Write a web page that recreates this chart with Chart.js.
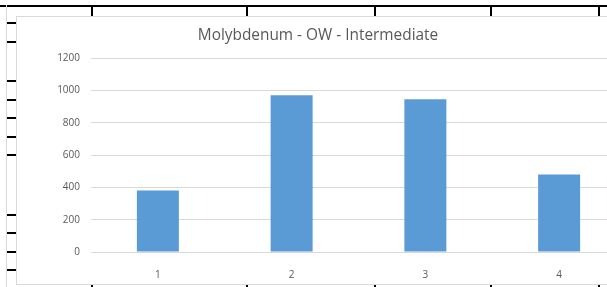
<!DOCTYPE html>
<html>
<head>
<meta charset="utf-8">
<script src="https://cdn.jsdelivr.net/npm/chart.js@4.4.1/dist/chart.umd.min.js"></script>
<style>
  html, body { margin: 0; padding: 0; background: #fff; }
  body { width: 607px; height: 287px; overflow: hidden; position: relative; font-family: "Open Sans", sans-serif; }
  .cell { position: absolute; background: #000; }
  #leftRule { position: absolute; left: 6px; top: 5px; width: 1px; height: 282px; background: #d9d9d9; }
  #topRule { position: absolute; left: 0; top: 5px; width: 607px; height: 2px; background: #000; }
  #chartBox {
    position: absolute; left: 16px; top: 16px; width: 700px; height: 269px;
    box-sizing: border-box; border: 1px solid #d9d9d9; background: #fff;
  }
  #chartBox canvas { display: block; }
  #title {
    position: absolute; left: 0; width: 636px; top: 24px; text-align: center;
    font-size: 15.4px; color: #595959; white-space: nowrap;
  }
</style>
</head>
<body>
<div id="topRule"></div>
<div id="leftRule"></div>
<div id="chartBox"><canvas id="chart" width="698" height="267"></canvas></div>
<div id="title">Molybdenum - OW - Intermediate</div>
<script>
// data
const categories = ['1', '2', '3', '4'];
const molybdenum = [380, 970, 945, 480];
const yTicks = [0, 200, 400, 600, 800, 1000, 1200];

// spreadsheet cell borders seen around the chart
const colEdges = [92, 247, 375, 491, 599];
const rowEdges = [23, 42, 81, 100, 118, 137, 155, 215, 233, 252, 270];

function addCell(x, y, w, h) {
  const d = document.createElement('div');
  d.className = 'cell';
  d.style.left = x + 'px';
  d.style.top = y + 'px';
  d.style.width = w + 'px';
  d.style.height = h + 'px';
  document.body.appendChild(d);
}
colEdges.forEach(x => {
  addCell(x - 1, 5, 2, 11);
  addCell(x - 1, 284, 2, 3);
});
rowEdges.forEach(y => addCell(7, y - 1, 9, 2));
// keep chart box above the cell lines
document.body.appendChild(document.getElementById('chartBox'));
document.body.appendChild(document.getElementById('title'));

const tickFont = { family: '"Open Sans", sans-serif', size: 10 };

new Chart(document.getElementById('chart'), {
  type: 'bar',
  data: {
    labels: categories,
    datasets: [{
      label: 'Molybdenum',
      data: molybdenum,
      backgroundColor: '#5b9bd5',
      borderWidth: 0,
      barPercentage: 0.314,
      categoryPercentage: 1
    }]
  },
  options: {
    responsive: false,
    animation: false,
    layout: { padding: { left: 0, right: 89, top: 41, bottom: 0 } },
    plugins: {
      legend: { display: false },
      title: { display: false },
      tooltip: { enabled: false }
    },
    scales: {
      x: {
        grid: { display: false },
        border: { display: false },
        ticks: { color: '#595959', font: tickFont, padding: 9, maxRotation: 0 },
        afterFit: s => { s.height = 32; }
      },
      y: {
        min: 0,
        max: 1200,
        afterBuildTicks: s => { s.ticks = yTicks.map(v => ({ value: v })); },
        grid: { color: '#d9d9d9', lineWidth: 1, drawTicks: false },
        border: { display: false },
        ticks: { color: '#595959', font: tickFont, padding: 11, callback: v => String(v) },
        afterFit: s => { s.width = 74; }
      }
    }
  }
});
</script>
</body>
</html>
